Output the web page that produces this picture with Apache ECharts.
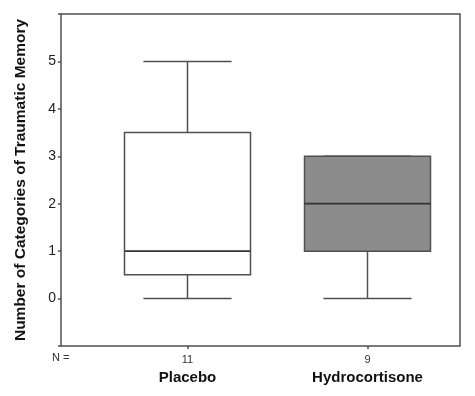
<!DOCTYPE html>
<html>
<head>
<meta charset="utf-8">
<script src="https://cdn.jsdelivr.net/npm/echarts@6/dist/echarts.min.js"></script>
<style>html,body{margin:0;padding:0;background:#fff;}#c{width:475px;height:396px;}</style>
</head>
<body>
<div id="c"></div>
<script>
const categories = ['Placebo', 'Hydrocortisone'];
const counts = [11, 9];
// [min, Q1, median, Q3, max]
const boxValues = [
  [0, 0.5, 1, 3.5, 5],
  [0, 1, 2, 3, 3]
];
const boxFills = ['#ffffff', '#8c8c8c'];
const yTicks = [0, 1, 2, 3, 4, 5];

const chart = echarts.init(document.getElementById('c'), null, {renderer: 'canvas'});
const lineColor = '#505050';

const seriesData = boxValues.map((v, i) => [i].concat(v));

const option = {
  backgroundColor: '#ffffff',
  animation: false,
  grid: [
    {left: 61, right: 15, top: 14, bottom: 50, show: true, borderColor: lineColor, borderWidth: 1.5, backgroundColor: 'transparent'},
    {left: 97.5, right: 17.5, top: 14, bottom: 50}
  ],
  xAxis: [
    {gridIndex: 0, type: 'value', show: false, min: 0, max: 1},
    {
      gridIndex: 1, type: 'category', data: categories, boundaryGap: true, position: 'bottom',
      axisLine: {show: false, onZero: false},
      axisTick: {show: true, alignWithLabel: true, length: 3, lineStyle: {color: lineColor, width: 1.5}},
      axisLabel: {
        interval: 0, margin: 5,
        formatter: (val, idx) => '{n|' + counts[idx] + '}\n{c|' + val + '}',
        rich: {
          n: {fontFamily: 'Liberation Sans, Arial, sans-serif', fontSize: 11, color: '#333', lineHeight: 17},
          c: {fontFamily: 'Liberation Sans, Arial, sans-serif', fontSize: 15, fontWeight: 'bold', color: '#111', lineHeight: 19}
        }
      }
    }
  ],
  yAxis: [
    {
      gridIndex: 0, type: 'value', min: -1, max: 6, interval: 1,
      axisLine: {show: false},
      axisTick: {show: true, length: 3, lineStyle: {color: lineColor, width: 1.5}},
      splitLine: {show: false},
      axisLabel: {
        margin: 5, fontFamily: 'Liberation Sans, Arial, sans-serif', fontSize: 14, color: '#222',
        formatter: v => (yTicks.indexOf(v) >= 0 ? String(v) : '')
      },
      name: 'Number of Categories of Traumatic Memory',
      nameLocation: 'middle', nameGap: 32, nameRotate: 90,
      nameTextStyle: {fontFamily: 'Liberation Sans, Arial, sans-serif', fontSize: 15.5, fontWeight: 'bold', color: '#111'}
    },
    {gridIndex: 1, type: 'value', min: -1, max: 6, show: false}
  ],
  graphic: [
    {type: 'text', left: 52, top: 352, style: {text: 'N =', font: '11px "Liberation Sans", Arial, sans-serif', fill: '#333'}}
  ],
  series: [{
    type: 'custom',
    xAxisIndex: 1, yAxisIndex: 1,
    data: seriesData,
    encode: {x: 0, y: [1, 2, 3, 4, 5]},
    renderItem: function (params, api) {
      const i = api.value(0);
      const band = api.size([1, 0])[0];
      const half = band * 0.35;
      const capHalf = band * 0.245;
      const pMin = api.coord([i, api.value(1)]);
      const pQ1 = api.coord([i, api.value(2)]);
      const pMed = api.coord([i, api.value(3)]);
      const pQ3 = api.coord([i, api.value(4)]);
      const pMax = api.coord([i, api.value(5)]);
      const cx = pMin[0];
      const ls = {stroke: lineColor, lineWidth: 1.5, fill: null};
      const children = [
        {type: 'line', shape: {x1: cx, y1: pQ3[1], x2: cx, y2: pMax[1]}, style: ls},
        {type: 'line', shape: {x1: cx - capHalf, y1: pMax[1], x2: cx + capHalf, y2: pMax[1]}, style: ls},
        {type: 'line', shape: {x1: cx, y1: pQ1[1], x2: cx, y2: pMin[1]}, style: ls},
        {type: 'line', shape: {x1: cx - capHalf, y1: pMin[1], x2: cx + capHalf, y2: pMin[1]}, style: ls},
        {type: 'rect', shape: {x: cx - half, y: pQ3[1], width: half * 2, height: pQ1[1] - pQ3[1]},
          style: {fill: boxFills[i], stroke: lineColor, lineWidth: 1.5}},
        {type: 'line', shape: {x1: cx - half, y1: pMed[1], x2: cx + half, y2: pMed[1]}, style: {stroke: '#333', lineWidth: 1.8}}
      ];
      return {type: 'group', children: children};
    }
  }]
};
chart.setOption(option);
</script>
</body>
</html>
